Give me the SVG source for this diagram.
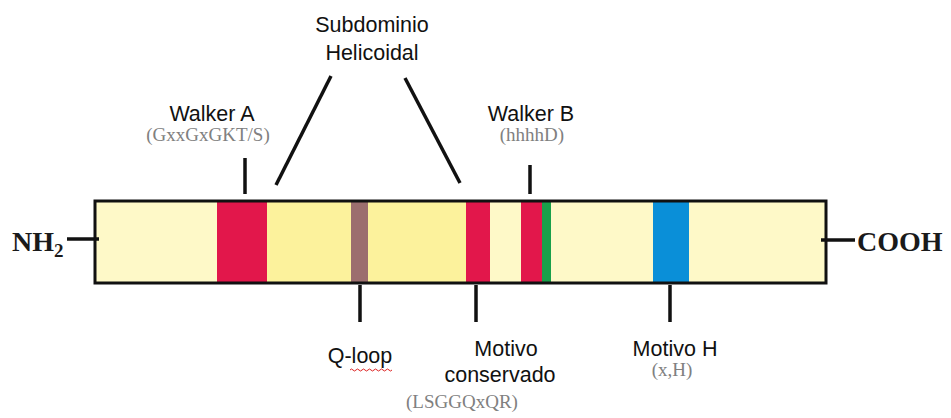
<svg xmlns="http://www.w3.org/2000/svg" width="951" height="418" viewBox="0 0 951 418">
  <style>
    .lbl { font-family: "Liberation Sans", Arial, sans-serif; font-size: 21.5px; fill: #111; text-anchor: middle; }
    .seq { font-family: "Liberation Serif", "Times New Roman", serif; font-size: 19px; fill: #808080; text-anchor: middle; }
    .term { font-family: "Liberation Serif", "Times New Roman", serif; font-size: 28px; font-weight: bold; fill: #1a1a1a; }
    .tick { stroke: #111; stroke-width: 3.5; fill: none; }
    .pale { fill: #FEF9C8; }
    .yel { fill: #FCF29C; }
  </style>

  <!-- protein bar -->
  <g id="protein">
    <rect class="pale" x="95" y="201" width="731" height="82"/>
    <rect class="yel" x="267" y="201" width="199" height="82"/>
    <rect x="217" y="201" width="50" height="82" fill="#E2174B"/>
    <rect x="351" y="201" width="17" height="82" fill="#9C6E6E"/>
    <rect x="466" y="201" width="24" height="82" fill="#E2174B"/>
    <rect x="521" y="201" width="21" height="82" fill="#E2174B"/>
    <rect x="542" y="201" width="9" height="82" fill="#18A04A"/>
    <rect x="653" y="201" width="36" height="82" fill="#0A8FD8"/>
    <rect x="95" y="201" width="731" height="82" fill="none" stroke="#111" stroke-width="3"/>
  </g>

  <!-- termini -->
  <g id="nh2">
    <text class="term" x="12" y="251">NH<tspan font-size="19" dy="6">2</tspan></text>
  </g>
  <g id="cooh">
    <text class="term" x="857" y="251">COOH</text>
  </g>

  <g id="walkerA">
    <text class="lbl" x="212" y="121">Walker A</text>
    <text class="seq" x="208" y="141">(GxxGxGKT/S)</text>
  </g>
  <g id="subdominio">
    <text class="lbl" x="372" y="32">Subdominio</text>
    <text class="lbl" x="372" y="60">Helicoidal</text>
  </g>
  <g id="walkerB">
    <text class="lbl" x="531" y="121">Walker B</text>
    <text class="seq" x="532" y="141">(hhhhD)</text>
  </g>
  <g id="qloop">
    <text class="lbl" x="360" y="363">Q-loop</text>
    <path d="M350 370 q1.5 -2 3 0 t3 0 t3 0 t3 0 t3 0 t3 0 t3 0 t3 0 t3 0 t3 0 t3 0 t3 0 t3 0 t3 0" fill="none" stroke="#d22" stroke-width="1"/>
  </g>
  <g id="motivoConservado">
    <text class="lbl" x="506" y="356">Motivo</text>
    <text class="lbl" x="500" y="382">conservado</text>
    <text class="seq" x="462" y="408">(LSGGQxQR)</text>
  </g>
  <g id="motivoH">
    <text class="lbl" x="675" y="356">Motivo H</text>
    <text class="seq" x="672" y="376">(x,H)</text>
  </g>

  <!-- connectors -->
  <g id="connectors" class="tick">
    <line x1="67" y1="239" x2="99" y2="239"/>
    <line x1="821" y1="240" x2="855" y2="240"/>
    <line x1="245" y1="158" x2="245" y2="194"/>
    <line x1="331" y1="76" x2="276" y2="185"/>
    <line x1="405" y1="78" x2="460" y2="183"/>
    <line x1="530" y1="165" x2="530" y2="194"/>
    <line x1="360" y1="285" x2="360" y2="322"/>
    <line x1="476" y1="285" x2="476" y2="322"/>
    <line x1="670" y1="285" x2="670" y2="322"/>
  </g>
</svg>
